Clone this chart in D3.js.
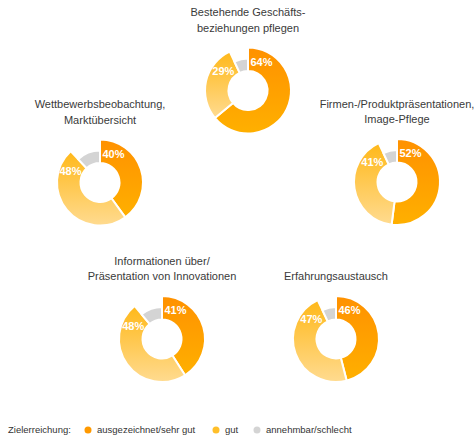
<!DOCTYPE html>
<html>
<head>
<meta charset="utf-8">
<script src="https://cdn.jsdelivr.net/npm/d3@7"></script>
<style>
  html, body { margin: 0; padding: 0; background: #fff; }
  svg { display: block; font-family: "Liberation Sans", Arial, sans-serif; }
</style>
</head>
<body>
<svg id="chart" width="476" height="442"></svg>
<script>
// ---- data ----
const titles = [
  "Bestehende Geschäfts-\nbeziehungen pflegen",
  "Wettbewerbsbeobachtung,\nMarktübersicht",
  "Firmen-/Produktpräsentationen,\nImage-Pflege",
  "Informationen über/\nPräsentation von Innovationen",
  "Erfahrungsaustausch"
];
const ausgezeichnet = [64, 40, 52, 41, 46];   // ausgezeichnet/sehr gut
const gut           = [29, 48, 41, 48, 47];   // gut
const annehmbar     = [7, 12, 7, 11, 7];      // annehmbar/schlecht
const seriesNames = ["ausgezeichnet/sehr gut", "gut", "annehmbar/schlecht"];
const legendTitle = "Zielerreichung:";

// ---- layout ----
const layoutX = [248, 100, 397, 162, 336];
const layoutY = [90.5, 182.5, 182, 339, 339];
const outerR = 43, innerR = 19.5, greyOuterR = 32;

const svg = d3.select("#chart");
const defs = svg.append("defs");

function grad(id, c1, c2) {
  const g = defs.append("linearGradient").attr("id", id)
    .attr("x1", 0).attr("y1", 0).attr("x2", 0).attr("y2", 1);
  g.append("stop").attr("offset", "0%").attr("stop-color", c1);
  g.append("stop").attr("offset", "100%").attr("stop-color", c2);
}
grad("gOrange", "#ff9100", "#ffb000");
grad("gYellow", "#ffb819", "#ffdb90");
const fills = ["url(#gOrange)", "url(#gYellow)", "#d4d4d4"];
const legendColors = ["#ff9900", "#ffbf2a", "#d4d4d4"];

const pie = d3.pie().sort(null).value(d => d.v);

titles.forEach((title, i) => {
  const g = svg.append("g").attr("transform", `translate(${layoutX[i]},${layoutY[i]})`);
  const data = [
    { k: 0, v: ausgezeichnet[i] },
    { k: 1, v: gut[i] },
    { k: 2, v: annehmbar[i] }
  ];
  const arcs = pie(data);
  g.selectAll("path").data(arcs).enter().append("path")
    .attr("d", d => d3.arc().innerRadius(innerR)
      .outerRadius(d.data.k === 2 ? greyOuterR : outerR)(d))
    .attr("fill", d => fills[d.data.k])
    .attr("stroke", "#fff").attr("stroke-width", 2).attr("stroke-linejoin", "round");

  // labels tucked near the top end of the orange and yellow slices
  const labR = 31.5;
  arcs.filter(d => d.data.k < 2).forEach(d => {
    const a = d.data.k === 0 ? d.startAngle + 0.44 : d.endAngle - 0.46;
    g.append("text")
      .attr("x", labR * Math.sin(a))
      .attr("y", -labR * Math.cos(a))
      .attr("dy", "0.36em")
      .attr("text-anchor", "middle")
      .attr("fill", "#fff")
      .attr("font-size", 11)
      .attr("font-weight", "bold")
      .text(d.data.v + "%");
  });

  // title
  const lines = title.split("\n");
  const lastBase = -outerR - 16;
  lines.forEach((ln, j) => {
    g.append("text")
      .attr("x", 0)
      .attr("y", lastBase - (lines.length - 1 - j) * 15.5)
      .attr("text-anchor", "middle")
      .attr("fill", "#3a3a3a")
      .attr("font-size", 11)
      .text(ln);
  });
});

// ---- legend ----
const legY = 430;
const leg = svg.append("g");
leg.append("text").attr("x", 8).attr("y", legY).attr("dy", "0.35em")
  .attr("font-size", 9.5).attr("fill", "#333").text(legendTitle);
const legDotX = [88, 216, 257];
seriesNames.forEach((name, k) => {
  leg.append("circle").attr("cx", legDotX[k]).attr("cy", legY).attr("r", 3.5)
    .attr("fill", legendColors[k]);
  leg.append("text").attr("x", legDotX[k] + 9).attr("y", legY).attr("dy", "0.35em")
    .attr("font-size", 9.5).attr("fill", "#333").text(name);
});
</script>
</body>
</html>
